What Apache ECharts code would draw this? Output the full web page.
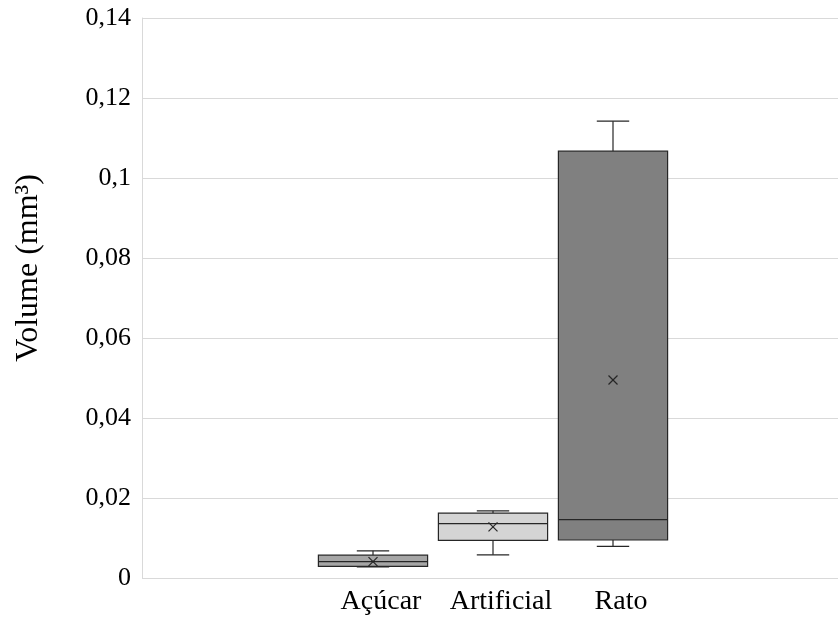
<!DOCTYPE html>
<html>
<head>
<meta charset="utf-8">
<script src="https://cdn.jsdelivr.net/npm/echarts@6/dist/echarts.min.js"></script>
<style>
html,body{margin:0;padding:0;background:#fff;}
#chart{width:838px;height:617px;}
</style>
</head>
<body>
<div id="chart"></div>
<script>
// Data
const categories = ['Açúcar', 'Artificial', 'Rato'];
const minValues    = [0.0028, 0.0058, 0.0079];
const q1Values     = [0.0029, 0.0094, 0.0095];
const medianValues = [0.0041, 0.0136, 0.0146];
const q3Values     = [0.0057, 0.0162, 0.1067];
const maxValues    = [0.0068, 0.0168, 0.1142];
const meanValues   = [0.0041, 0.0128, 0.0495];
const fillColors   = ['#a6a6a6', '#d4d4d4', '#808080'];
const yTicks = { min: 0, max: 0.14, interval: 0.02 };
const yTitle = 'Volume (mm³)';

const boxData = categories.map((c, i) => [i, minValues[i], q1Values[i], medianValues[i], q3Values[i], maxValues[i], meanValues[i]]);

const lineColor = '#262626';
const fontFamily = '"Liberation Serif", "Times New Roman", serif';

function renderBox(params, api) {
  const idx = api.value(0);
  const band = api.size([1, 0])[0];
  const boxW = band * 0.91;
  const capW = band * 0.27;
  const pMin = api.coord([idx, api.value(1)]);
  const pQ1 = api.coord([idx, api.value(2)]);
  const pMed = api.coord([idx, api.value(3)]);
  const pQ3 = api.coord([idx, api.value(4)]);
  const pMax = api.coord([idx, api.value(5)]);
  const pMean = api.coord([idx, api.value(6)]);
  const cx = pQ1[0];
  const st = { stroke: lineColor, lineWidth: 1.2, fill: null };
  const m = 4.5;
  return {
    type: 'group',
    children: [
      { type: 'line', shape: { x1: cx, y1: pQ3[1], x2: cx, y2: pMax[1] }, style: st },
      { type: 'line', shape: { x1: cx - capW / 2, y1: pMax[1], x2: cx + capW / 2, y2: pMax[1] }, style: st },
      { type: 'line', shape: { x1: cx, y1: pQ1[1], x2: cx, y2: pMin[1] }, style: st },
      { type: 'line', shape: { x1: cx - capW / 2, y1: pMin[1], x2: cx + capW / 2, y2: pMin[1] }, style: st },
      { type: 'rect', shape: { x: cx - boxW / 2, y: pQ3[1], width: boxW, height: pQ1[1] - pQ3[1] },
        style: { fill: fillColors[idx], stroke: lineColor, lineWidth: 1.2 } },
      { type: 'line', shape: { x1: cx - boxW / 2, y1: pMed[1], x2: cx + boxW / 2, y2: pMed[1] }, style: st },
      { type: 'line', shape: { x1: cx - m, y1: pMean[1] - m, x2: cx + m, y2: pMean[1] + m }, style: st },
      { type: 'line', shape: { x1: cx - m, y1: pMean[1] + m, x2: cx + m, y2: pMean[1] - m }, style: st }
    ]
  };
}

const chart = echarts.init(document.getElementById('chart'), null, { renderer: 'canvas' });
chart.setOption({
  animation: false,
  backgroundColor: '#ffffff',
  grid: [
    { left: 142, right: 0, top: 18, bottom: 39 },
    { left: 313, right: 165, top: 18, bottom: 39 },
    { left: 321, right: 157, top: 18, bottom: 39 }
  ],
  graphic: [
    { type: 'text', x: 29, y: 268, rotation: Math.PI / 2,
      style: { text: yTitle, fill: '#000', font: '32px ' + fontFamily, align: 'center', verticalAlign: 'middle' } }
  ],
  xAxis: [
    { gridIndex: 0, type: 'category', data: [''], show: false },
    { gridIndex: 1, type: 'category', data: categories, show: false },
    { gridIndex: 2, type: 'category', data: categories,
      axisLine: { show: false }, axisTick: { show: false },
      axisLabel: { interval: 0, hideOverlap: false, color: '#000', fontFamily: fontFamily, fontSize: 28, margin: 10 } }
  ],
  yAxis: [
    { gridIndex: 0, type: 'value', min: yTicks.min, max: yTicks.max, interval: yTicks.interval,
      axisLine: { show: true, lineStyle: { color: '#d9d9d9', width: 1 } },
      axisTick: { show: false },
      splitLine: { show: true, lineStyle: { color: '#d9d9d9', width: 1 } },
      axisLabel: { color: '#000', fontFamily: fontFamily, fontSize: 26, margin: 11,
        formatter: v => String(Math.round(v * 100) / 100).replace('.', ',') } },
    { gridIndex: 1, type: 'value', min: yTicks.min, max: yTicks.max, interval: yTicks.interval, show: false },
    { gridIndex: 2, type: 'value', min: yTicks.min, max: yTicks.max, interval: yTicks.interval, show: false }
  ],
  series: [
    { type: 'custom', xAxisIndex: 1, yAxisIndex: 1, renderItem: renderBox,
      encode: { x: 0, y: [1, 2, 3, 4, 5, 6] }, data: boxData }
  ]
});
</script>
</body>
</html>
